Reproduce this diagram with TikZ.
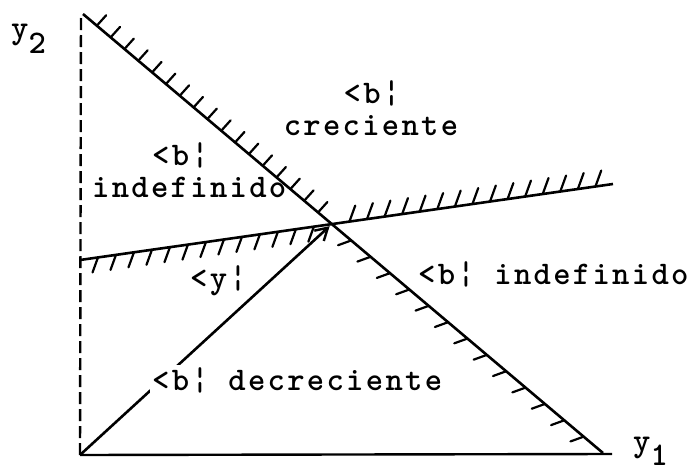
\documentclass[tikz,border=0pt]{standalone}
\usepackage{fontspec}
\usepackage{tikz}
\usetikzlibrary{arrows.meta, calc}
\newfontfamily\lbfont{lmmonolt10-bold}[Extension=.otf, LetterSpace=7]

\tikzset{
  axisline/.style={line width=2.4pt},
  bound/.style={line width=2.6pt},
  hatch/.style={line width=2.2pt, line cap=round},
  lbl/.style={font=\lbfont\fontsize{33}{36}\selectfont, inner sep=0pt, anchor=base west},
  vecarrow/.style={-{Straight Barb[length=12pt,width=14pt,line width=2.4pt]}, line width=2.6pt, shorten >=3pt}
}

\begin{document}
\begin{tikzpicture}[x=1pt, y=-1pt]
  \useasboundingbox (0,0) rectangle (694,471);

  % axes
  \coordinate (O) at (80,455);
  \coordinate (y2top) at (81,14);
  \coordinate (y1end) at (612,454);
  \draw[axisline, dash pattern=on 12pt off 5pt] (O) -- (y2top);
  \draw[axisline] (O) -- (y1end);

  % the two boundary lines
  \coordinate (A) at (83,14);
  \coordinate (B) at (603,453);
  \coordinate (C) at (80,260);
  \coordinate (D) at (613,184);
  \coordinate (P) at (intersection of A--B and C--D);
  \draw[bound] (A) -- (B);
  \draw[bound] (C) -- (D);

  % hatching
  \foreach \i in {1,...,17}
    \draw[hatch] ($(A)!\i/18!(P)$) -- ++(-48:14);
  \foreach \i in {1,...,13}
    \draw[hatch] ($(P)!\i/14!(B)$) -- ++(160:14);
  \foreach \i in {1,...,13}
    \draw[hatch] ($(C)!\i/14!(P)$) -- ++(110:16);
  \foreach \i in {1,...,15}
    \draw[hatch] ($(P)!\i/16!(D)$) -- ++(-70:17);

  % vector
  \draw[vecarrow] (O) -- (P);

  % labels
  \node[lbl, anchor=base] (bcre) at (372,103) {<b¦};
  \node[lbl, anchor=base] (cre) at (371,135) {creciente};
  \node[lbl] (bind1) at (152,165) {<b¦};
  \node[lbl] (ind1) at (92,197) {indefinido};
  \node[lbl] (ylbl) at (190,288) {<y¦};
  \node[lbl] (bind2) at (418,284) {<b¦ indefinido};
  \node[lbl, fill=white, inner sep=2pt] (bdec) at (150,390) {<b¦ decreciente};
  \node[lbl] (y2lbl) at (11,38) {y\raisebox{-15pt}{2}};
  \node[lbl] (y1lbl) at (633,451) {y\raisebox{-14pt}{1}};
\end{tikzpicture}
\end{document}
